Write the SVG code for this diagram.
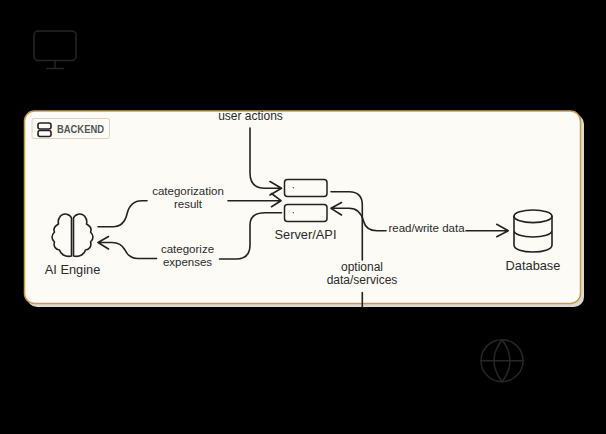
<svg xmlns="http://www.w3.org/2000/svg" width="606" height="434" viewBox="0 0 606 434">
<style>
text{font-family:"Liberation Sans",Arial,sans-serif;font-size:12px;fill:#2b2b2b;text-anchor:middle}
.sm{font-size:11.500px}
.lg{font-size:12.800px}
.ln{fill:none;stroke:#222;stroke-width:1.600;stroke-linecap:round;stroke-linejoin:round}
.ic{fill:none;stroke:#222;stroke-width:1.600;stroke-linecap:round;stroke-linejoin:round}
.dk{fill:none;stroke:#262626;stroke-width:1.500;stroke-linecap:round;stroke-linejoin:round}
</style>
<rect width="606" height="434" fill="#000"/>
<g id="client"><rect x="34" y="31" width="42" height="29.500" rx="4" class="dk"/><path d="M55 60.500V68M47 68.500H63.500" class="dk"/></g>
<g id="backend">
<rect x="27" y="114" width="557" height="193" rx="10" fill="#dcd9d2"/>
<rect x="24.500" y="111" width="556" height="192.500" rx="10" fill="#fdfbf6" stroke="#c99a50" stroke-width="1.500"/>
<rect x="32" y="118.500" width="77.500" height="20" rx="2" fill="#fdfbf6" stroke="#dcd3c0" stroke-width="1"/>
<rect x="38" y="123" width="13" height="6" rx="2" class="ic"/>
<rect x="38" y="130.500" width="13" height="6" rx="2" class="ic"/>
<text x="80.500" y="133" textLength="47" lengthAdjust="spacingAndGlyphs" style="font-size:10.500px;font-weight:700;fill:#555">BACKEND</text>
</g>
<g id="connectors">
<path class="ln" d="M250 128V173Q250 188.300 265 188.300H281.500M270 181.500L281.500 188.300L270 195"/>
<path class="ln" d="M228 200.700H281M271.500 193.500L281 200.700L271.500 206.700"/>
<path class="ln" d="M281.500 212.700H265Q250 212.700 250 225V245Q250 259 236 259H219.500"/>
<path class="ln" d="M156.500 258.500H138Q129 258.500 125 250Q121 242.500 112 242.500H98M108.500 236.500L98 242.500L108.500 249"/>
<path class="ln" d="M98 226.700H113Q124 226.700 127 214Q130 200.700 142 200.700H147"/>
<path class="ln" d="M331 191.700H349Q362.300 191.700 362.300 205V260M362.300 292.500V307"/>
<path class="ln" d="M386 230.700H377Q366 230.700 363.500 221Q360 208.300 349 208.300H331M341.500 202.500L331 208.300L341.500 215"/>
<path class="ln" d="M466 230.700H508.300M496.700 224.300L508.300 230.700L496.700 236.700"/>
</g>
<g id="server">
<rect x="284.500" y="179.500" width="42.500" height="17" rx="3" fill="#fdfbf6" stroke="#222" stroke-width="1.500"/>
<rect x="284.500" y="204.500" width="42.500" height="17" rx="3" fill="#fdfbf6" stroke="#222" stroke-width="1.500"/>
<circle cx="293.300" cy="187.700" r=".6" fill="#222"/><circle cx="293.300" cy="212.700" r=".6" fill="#222"/>
<text class="lg" x="305.500" y="239">Server/API</text>
</g>
<g id="ai-engine">
<path class="ic" d="M71.500 218C70 214 64 212.500 60.500 216C58 219 58 222 58.500 224C55 226 53 229 54.500 232C51.500 235 51 239 54.500 242C53 246 56 250 59.500 250C60.500 254 65 257.500 71.500 256Z"/>
<path class="ic" d="M73.500 218C75 214 81 212.500 84.500 216C87 219 87 222 86.500 224C90 226 92 229 90.500 232C93.500 235 94 239 90.500 242C92 246 89 250 85.500 250C84.500 254 80 257.500 73.500 256Z"/>
<text class="lg" x="72.500" y="274">AI Engine</text>
</g>
<g id="database">
<ellipse cx="533" cy="216.300" rx="19" ry="6.300" class="ic"/>
<path class="ic" d="M514 216.300V245C514 249.500 523 252 533 252C543 252 552 249.500 552 245V216.300M514 230.500C514 234.500 523 237 533 237C543 237 552 234.500 552 230.500"/>
<text class="lg" x="533" y="270">Database</text>
</g>
<g id="external"><circle cx="502" cy="360.700" r="21" class="dk"/><path class="dk" d="M502 339.700Q518 360.700 502 381.700Q486 360.700 502 339.700ZM481 360.700H523"/></g>
<g id="labels">
<text x="250.500" y="120">user actions</text>
<text class="sm" x="188" y="195">categorization</text><text class="sm" x="188" y="207.500">result</text>
<text class="sm" x="187.500" y="253">categorize</text><text class="sm" x="187.500" y="265.500">expenses</text>
<text class="sm" x="426.500" y="232">read/write data</text>
<text x="362" y="271">optional</text><text x="362" y="284">data/services</text>
</g>
</svg>
